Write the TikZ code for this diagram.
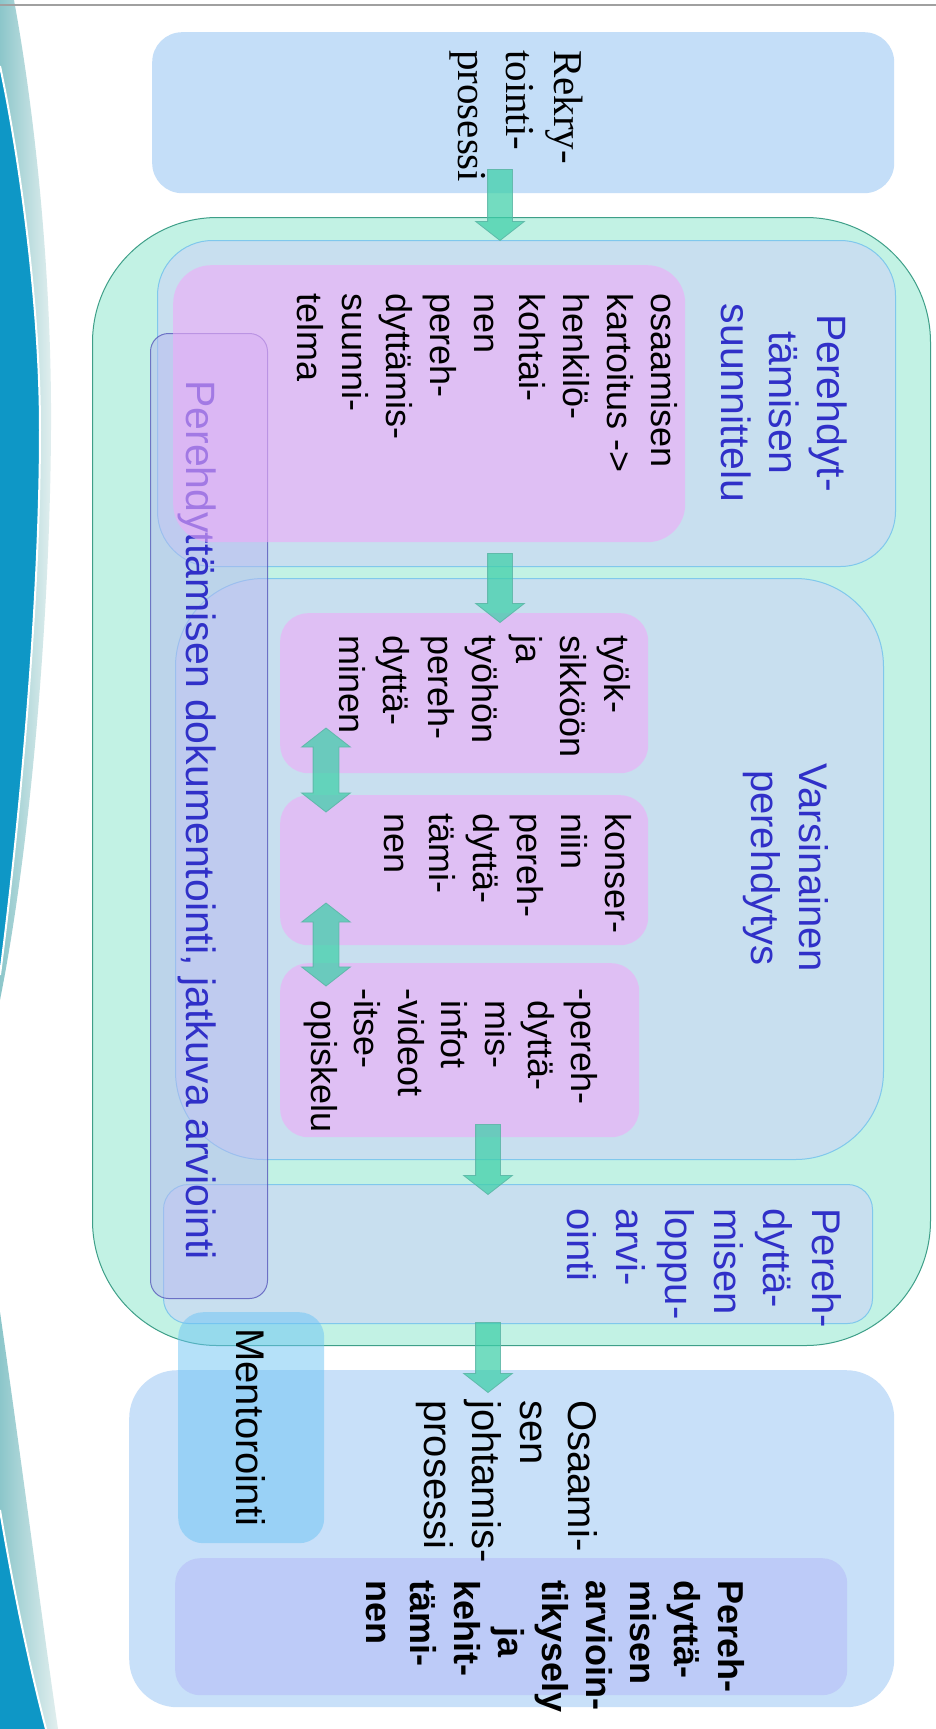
\documentclass[tikz,border=0pt]{standalone}
\usepackage{fontspec}
\newfontfamily\arialf{Liberation Sans}
\newfontfamily\timesf{Liberation Serif}
\usetikzlibrary{shapes.arrows}
\definecolor{rekryblue}{HTML}{C4DEF8}
\definecolor{mint}{HTML}{C2F2E4}
\definecolor{mintborder}{HTML}{3E9F88}
\definecolor{boxgray}{HTML}{C8DFEF}
\definecolor{boxborder}{HTML}{80C8EC}
\definecolor{pinkfill}{HTML}{EFABF8}
\definecolor{docfill}{HTML}{B8B8F0}
\definecolor{docborder}{HTML}{5050B8}
\definecolor{titleblue}{HTML}{3030C8}
\definecolor{arrowfill}{HTML}{3DCFA8}
\definecolor{arrowborder}{HTML}{5AB5A5}
\definecolor{osaablue}{HTML}{C8E0F9}
\definecolor{mentorfill}{HTML}{6CC4F5}
\definecolor{kyselyfill}{HTML}{BDCBF8}
\definecolor{decodark}{HTML}{0E97C6}
\definecolor{decolightA}{HTML}{8CC6CA}
\definecolor{decolightB}{HTML}{E2EFEF}
\definecolor{topline}{HTML}{A0A0A0}
\newcommand\fsz[2]{\fontsize{#1}{#2}\selectfont}
\newcommand\topstrut{\rule{0pt}{0.8em}}
\begin{document}
\begin{tikzpicture}[x=1pt,y=-1pt,
  plainbox/.style={rectangle, inner sep=0pt, anchor=north west},
  rekrybox/.style={plainbox, fill=rekryblue, rounded corners=30pt},
  mintbox/.style={plainbox, fill=mint, draw=mintborder, line width=1pt, rounded corners=125pt},
  graybox/.style={plainbox, fill=boxgray, draw=boxborder, line width=1pt},
  pinkbox/.style={plainbox, fill=pinkfill, fill opacity=0.6, rounded corners=28pt},
  docbox/.style={plainbox, fill=docfill, fill opacity=0.5, draw=docborder, draw opacity=0.75, line width=1pt, rounded corners=18pt},
  osaabox/.style={plainbox, fill=osaablue, rounded corners=48pt},
  mentorbox/.style={plainbox, fill=mentorfill, fill opacity=0.5, rounded corners=25pt},
  kyselybox/.style={plainbox, fill=kyselyfill, rounded corners=25pt},
  vtext/.style={rotate=-90, inner sep=0pt, anchor=north west, align=left},
  ctext/.style={rotate=-90, inner sep=0pt, anchor=north, align=center},
  blockarrow/.style={single arrow, rotate=-90, fill=arrowfill, fill opacity=0.72, draw=arrowborder, draw opacity=0.85, line width=0.8pt, inner xsep=0pt, inner ysep=12pt, single arrow head extend=12pt, single arrow tip angle=104, anchor=tip},
  dblarrow/.style={double arrow, rotate=-90, fill=arrowfill, fill opacity=0.72, draw=arrowborder, draw opacity=0.85, line width=0.8pt, inner xsep=0pt, inner ysep=12.5pt, double arrow head extend=11.5pt, double arrow tip angle=104, anchor=center}
]
% background and bounding box
\fill[white] (0,0) rectangle (936,1729);
\useasboundingbox (0,0) rectangle (936,1729);

% left decoration
\shade[left color=decolightA, right color=decolightB] (0,0) -- (14,0) .. controls (36,120) and (52,280) .. (51,430) .. controls (50,620) and (30,850) .. (0,1000) -- cycle;
\fill[decodark] (0,66) .. controls (18,150) and (40,300) .. (40,430) .. controls (40,600) and (20,820) .. (0,975) -- cycle;
\draw[white, line width=2pt] (0,66) .. controls (18,150) and (40,300) .. (40,430) .. controls (40,600) and (20,820) .. (0,975);
\shade[left color=decolightA, right color=decolightB] (0,1312) .. controls (20,1450) and (42,1620) .. (58,1729) -- (0,1729) -- cycle;
\fill[decodark] (0,1510) .. controls (15,1600) and (33,1680) .. (46,1729) -- (0,1729) -- cycle;
\draw[white, line width=2pt] (0,1510) .. controls (15,1600) and (33,1680) .. (46,1729);

% top rule
\draw[topline, line width=1.2pt] (0,5) -- (936,5);

% boxes
\node[rekrybox, minimum width=742pt, minimum height=161pt] (rekry) at (152,32) {};
\node[osaabox, minimum width=765pt, minimum height=337pt] (osaa) at (129,1370) {};
\node[kyselybox, minimum width=672pt, minimum height=137pt] (kysely) at (175,1558) {};
\node[mintbox, minimum width=838pt, minimum height=1128pt] (outer) at (92,217) {};
\node[graybox, rounded corners=55pt, minimum width=738pt, minimum height=326pt] (suun) at (157,240) {};
\node[graybox, rounded corners=88pt, minimum width=708pt, minimum height=581pt] (vars) at (175,578) {};
\node[graybox, rounded corners=25pt, minimum width=709pt, minimum height=139pt] (loppu) at (163,1184) {};

% titles
\node[ctext, text=titleblue, font=\arialf\fsz{41}{48}] (tsuun) at (850.8,403) {\topstrut Perehdyt-\\tämisen\\suunnittelu};
\node[ctext, text=titleblue, font=\arialf\fsz{40}{48}] (tvars) at (832,868) {\topstrut Varsinainen\\perehdytys};
\node[vtext, text=titleblue, font=\arialf\fsz{40}{49}] (tloppu) at (845,1208) {\topstrut Pereh-\\dyttä-\\misen\\loppu-\\arvi-\\ointi};

% documentation box
\node[docbox, minimum width=117pt, minimum height=965pt] (doc) at (150,333) {};
\node[vtext, text=titleblue, font=\arialf\fsz{41}{48}] (tdoc) at (219.8,380) {\topstrut Perehdyttämisen dokumentointi, jatkuva arviointi};

% pink boxes
\node[pinkbox, rounded corners=38pt, minimum width=512pt, minimum height=277pt] (p1) at (173,265) {};
\node[pinkbox, minimum width=368pt, minimum height=160pt] (p2) at (280,613) {};
\node[pinkbox, minimum width=368pt, minimum height=150pt] (p3) at (280,795) {};
\node[pinkbox, minimum width=359pt, minimum height=174pt] (p4) at (280,963) {};

\node[vtext, font=\arialf\fsz{36}{44.25}] (tp1) at (680.8,293) {\topstrut osaamisen\\kartoitus ->\\henkilö-\\kohtai-\\nen\\pereh-\\dyttämis-\\suunni-\\telma};
\node[vtext, font=\arialf\fsz{36}{44.2}] (tp2) at (633.8,635) {\topstrut työk-\\sikköön\\ja\\työhön\\pereh-\\dyttä-\\minen};
\node[vtext, font=\arialf\fsz{36}{44.2}] (tp3) at (634.8,813) {\topstrut konser-\\niin\\pereh-\\dyttä-\\tämi-\\nen};
\node[vtext, font=\arialf\fsz{36}{43.4}] (tp4) at (600.8,1000) {\topstrut\llap{-}pereh-\\dyttä-\\mis-\\infot\\\llap{-}videot\\\llap{-}itse-\\opiskelu};

% rekry text
\node[vtext, font=\timesf\fsz{41}{48}] (trekry) at (587.8,50) {\topstrut Rekry-\\tointi-\\prosessi};

% bottom texts
\node[vtext, font=\arialf\fsz{40}{48}] (tosaa) at (601,1400) {\topstrut Osaami-\\sen\\johtamis-\\prosessi};
\node[vtext, font=\arialf\bfseries\fsz{36}{44}] (tkysely) at (747.8,1580) {\topstrut Pereh-\\dyttä-\\misen\\arvioin-\\tikysely\\\hspace*{47pt}ja\\kehit-\\tämi-\\nen};

% mentorointi
\node[mentorbox, minimum width=146pt, minimum height=231pt] (mentor) at (178,1312) {};
\node[vtext, font=\arialf\fsz{40}{48}] (tmentor) at (269,1328) {\topstrut Mentorointi};

% arrows
\node[blockarrow, minimum height=71pt] (a1) at (500,241) {};
\node[blockarrow, minimum height=69pt] (a2) at (500,623) {};
\node[blockarrow, minimum height=70pt] (a3) at (488,1195) {};
\node[blockarrow, minimum height=70pt] (a4) at (488,1393) {};
\node[dblarrow, minimum height=84pt] (d1) at (326,770) {};
\node[dblarrow, minimum height=83pt] (d2) at (326,944.5) {};
\end{tikzpicture}
\end{document}
